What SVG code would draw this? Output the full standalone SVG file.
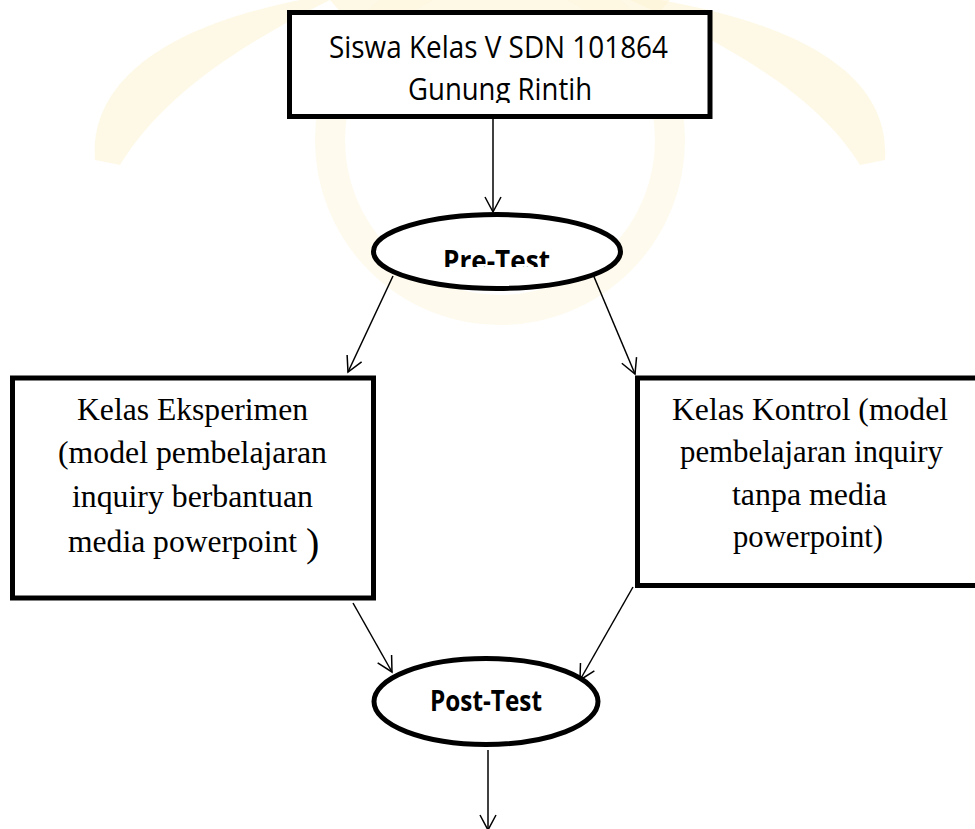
<svg xmlns="http://www.w3.org/2000/svg" width="975" height="829" viewBox="0 0 975 829">
<defs>
<style>
.box{fill:#fff;stroke:#000;stroke-width:5}
.oval{fill:#fff;stroke:#000;stroke-width:5}
.conn{fill:none;stroke:#000;stroke-width:1.5}
.cal{font-family:"Open Sans","Noto Sans","Liberation Sans",sans-serif;font-size:31px;fill:#000}
.calb{font-family:"Open Sans","Noto Sans","Liberation Sans",sans-serif;font-size:29px;font-weight:bold;fill:#000}
.tnr{font-family:"Liberation Serif","Times New Roman",serif;font-size:32px;fill:#000}
.wm{fill:#fdf4d4;opacity:0.55}
</style>
<marker id="ah" markerUnits="userSpaceOnUse" markerWidth="20" markerHeight="20" refX="0" refY="0" orient="auto" overflow="visible">
<path d="M-15,-8 L0,0 L-15,8" fill="none" stroke="#000" stroke-width="1.5"/>
</marker>
<clipPath id="clipTop"><rect x="290" y="14" width="418" height="89"/></clipPath>
<clipPath id="clipPre"><rect x="380" y="216" width="240" height="51"/></clipPath>
</defs>
<rect width="975" height="829" fill="#fff"/>
<g id="watermark">
<path class="wm" d="M95,160 C90,90 150,30 300,0 L330,0 C230,50 160,100 120,165 Z"/>
<path class="wm" d="M885,160 C890,90 830,30 660,0 L630,0 C740,50 820,100 860,165 Z"/>
<path class="wm" d="M330,0 C380,60 440,90 500,100 C560,90 620,60 670,0 Z"/>
<circle cx="500" cy="140" r="170" fill="none" stroke="#fdf6dc" stroke-width="30" opacity="0.5"/>
</g>
<g id="connectors">
<line class="conn" x1="493" y1="117" x2="493" y2="212" marker-end="url(#ah)"/>
<line class="conn" x1="393" y1="276" x2="348" y2="372" marker-end="url(#ah)"/>
<line class="conn" x1="592" y1="272" x2="635" y2="374" marker-end="url(#ah)"/>
<line class="conn" x1="353" y1="603" x2="392" y2="672" marker-end="url(#ah)"/>
<line class="conn" x1="633" y1="587" x2="580" y2="680" marker-end="url(#ah)"/>
<line class="conn" x1="488" y1="750" x2="488" y2="830" marker-end="url(#ah)"/>
</g>
<g id="siswa">
<rect class="box" x="289.5" y="12.5" width="420.5" height="104"/>
<g clip-path="url(#clipTop)">
<text class="cal" x="329" y="58" textLength="339" lengthAdjust="spacingAndGlyphs">Siswa Kelas V SDN 101864</text>
<text class="cal" x="408" y="100" textLength="184" lengthAdjust="spacingAndGlyphs">Gunung Rintih</text>
</g>
</g>
<g id="pretest">
<ellipse class="oval" cx="497" cy="251.5" rx="123.5" ry="37"/>
<text class="calb" x="443" y="271" textLength="107" lengthAdjust="spacingAndGlyphs" clip-path="url(#clipPre)">Pre-Test</text>
</g>
<g id="eksperimen">
<rect class="box" x="12.5" y="378" width="361" height="220"/>
<text class="tnr" x="77" y="420" textLength="231" lengthAdjust="spacingAndGlyphs">Kelas Eksperimen</text>
<text class="tnr" x="58" y="463" textLength="269" lengthAdjust="spacingAndGlyphs">(model pembelajaran</text>
<text class="tnr" x="72" y="507" textLength="241" lengthAdjust="spacingAndGlyphs">inquiry berbantuan</text>
<text class="tnr" x="68" y="552"><tspan textLength="229" lengthAdjust="spacingAndGlyphs">media powerpoint</tspan><tspan x="306" y="556" font-size="40">)</tspan></text>
</g>
<g id="kontrol">
<rect class="box" x="637.5" y="378" width="360" height="207.5"/>
<text class="tnr" x="672" y="420" textLength="276" lengthAdjust="spacingAndGlyphs">Kelas Kontrol (model</text>
<text class="tnr" x="680" y="462" textLength="263" lengthAdjust="spacingAndGlyphs">pembelajaran inquiry</text>
<text class="tnr" x="732" y="505" textLength="155" lengthAdjust="spacingAndGlyphs">tanpa media</text>
<text class="tnr" x="733" y="547" textLength="150" lengthAdjust="spacingAndGlyphs">powerpoint)</text>
</g>
<g id="posttest">
<ellipse class="oval" cx="486" cy="701.5" rx="112" ry="43"/>
<text class="calb" x="430" y="711" textLength="112" lengthAdjust="spacingAndGlyphs">Post-Test</text>
</g>
</svg>
